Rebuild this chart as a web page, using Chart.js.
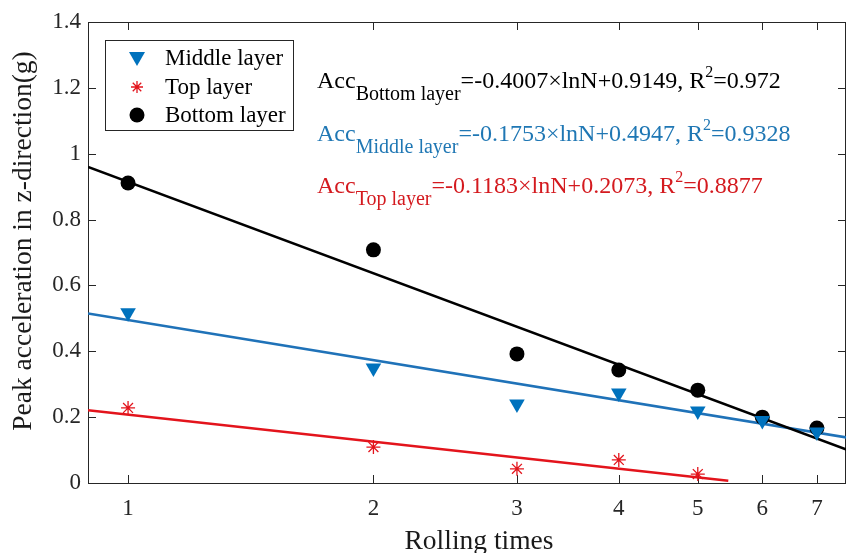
<!DOCTYPE html>
<html>
<head>
<meta charset="utf-8">
<script src="https://cdn.jsdelivr.net/npm/chart.js@4"></script>
<style>
  html, body { margin: 0; padding: 0; background: #fff; }
  #wrap { width: 847px; height: 553px; }
</style>
</head>
<body>
<div id="wrap"><canvas id="accChart" width="847" height="553"></canvas></div>
<script>
// values
const rollingTimes = [1, 2, 3, 4, 5, 6, 7];
const bottomLayer = [0.911, 0.708, 0.392, 0.343, 0.282, 0.200, 0.167];
const middleLayer = [0.517, 0.349, 0.240, 0.273, 0.219, 0.190, 0.155];
const topLayer = [0.228, 0.109, 0.043, 0.070, 0.027];

const xTicks = [1, 2, 3, 4, 5, 6, 7];
const yTicks = [0, 0.2, 0.4, 0.6, 0.8, 1, 1.2, 1.4];

// fitted lines (end points)
const fitX = [0.893, 7.72];
const bottomFit = [0.960, 0.096];
const middleFit = [0.515, 0.136];
const topFitX = [0.893, 5.45];
const topFit = [0.221, 0.007];

const equations = [
    { color: "#000000", parts: [["Acc", 0], ["Bottom layer", -1], ["=-0.4007×lnN+0.9149, R", 0], ["2", 1], ["=0.972", 0]] },
    { color: "#1F77B4", parts: [["Acc", 0], ["Middle layer", -1], ["=-0.1753×lnN+0.4947, R", 0], ["2", 1], ["=0.9328", 0]] },
    { color: "#D41A1F", parts: [["Acc", 0], ["Top layer", -1], ["=-0.1183×lnN+0.2073, R", 0], ["2", 1], ["=0.8877", 0]] }
];

const BLUE = "#0072BD";
const RED = "#E3141C";
const SERIF = "'Liberation Serif', 'DejaVu Serif', serif";

const pts = (xs, ys) => ys.map((y, i) => ({ x: xs[i], y: y }));

function drawMarker(ctx, kind, x, y) {
    ctx.save();
    if (kind === "tri") {
        ctx.fillStyle = BLUE;
        ctx.beginPath();
        ctx.moveTo(x - 8, y - 6);
        ctx.lineTo(x + 8, y - 6);
        ctx.lineTo(x, y + 8);
        ctx.closePath();
        ctx.fill();
    } else if (kind === "star") {
        ctx.strokeStyle = RED;
        ctx.lineWidth = 1.3;
        ctx.beginPath();
        for (let a = 0; a < 4; a++) {
            const ang = a * Math.PI / 4;
            ctx.moveTo(x - 6 * Math.cos(ang), y - 6 * Math.sin(ang));
            ctx.lineTo(x + 6 * Math.cos(ang), y + 6 * Math.sin(ang));
        }
        ctx.stroke();
    } else {
        ctx.fillStyle = "#000";
        ctx.beginPath();
        ctx.arc(x, y, 7.5, 0, Math.PI * 2);
        ctx.fill();
    }
    ctx.restore();
}

const framePlugin = {
    id: "frame",
    beforeDatasetsDraw(chart) {
        const { ctx, chartArea: a, scales } = chart;
        ctx.save();
        ctx.strokeStyle = "#262626";
        ctx.lineWidth = 1;
        ctx.strokeRect(a.left + 0.5, a.top + 0.5, a.right - a.left - 1, a.bottom - a.top);
        ctx.beginPath();
        xTicks.forEach(v => {
            const px = Math.round(scales.x.getPixelForValue(v)) + 0.5;
            ctx.moveTo(px, a.bottom); ctx.lineTo(px, a.bottom - 8);
            ctx.moveTo(px, a.top); ctx.lineTo(px, a.top + 8);
        });
        yTicks.forEach(v => {
            const py = Math.round(scales.y.getPixelForValue(v)) + 0.5;
            ctx.moveTo(a.left, py); ctx.lineTo(a.left + 8, py);
            ctx.moveTo(a.right, py); ctx.lineTo(a.right - 8, py);
        });
        ctx.stroke();
        ctx.restore();
    },
    afterDraw(chart) {
        const { ctx } = chart;
        ctx.save();
        // axis titles
        ctx.fillStyle = "#1a1a1a";
        ctx.font = "27.5px " + SERIF;
        ctx.textAlign = "center";
        ctx.textBaseline = "alphabetic";
        ctx.fillText("Rolling times", 479, 549);
        ctx.save();
        ctx.translate(31, 241);
        ctx.rotate(-Math.PI / 2);
        ctx.fillText("Peak acceleration in z-direction(g)", 0, 0);
        ctx.restore();

        // legend
        ctx.fillStyle = "#fff";
        ctx.fillRect(105, 40, 188, 90);
        ctx.strokeStyle = "#262626";
        ctx.lineWidth = 1;
        ctx.strokeRect(105.5, 40.5, 188, 90);
        const legend = [["tri", "Middle layer", 58], ["star", "Top layer", 87], ["dot", "Bottom layer", 115]];
        ctx.font = "23px " + SERIF;
        ctx.textAlign = "left";
        ctx.textBaseline = "middle";
        legend.forEach(([k, label, y]) => {
            drawMarker(ctx, k, 137, y);
            ctx.fillStyle = "#000";
            ctx.fillText(label, 165, y + 1);
        });

        // equations
        const baselines = [88, 141, 193];
        ctx.textBaseline = "alphabetic";
        equations.forEach((eq, i) => {
            let x = 317;
            ctx.fillStyle = eq.color;
            eq.parts.forEach(([t, lvl]) => {
                const size = lvl === 0 ? 24 : (lvl < 0 ? 20 : 16);
                const dy = lvl === 0 ? 0 : (lvl < 0 ? 12 : -11);
                ctx.font = size + "px " + SERIF;
                ctx.fillText(t, x, baselines[i] + dy);
                x += ctx.measureText(t).width;
            });
        });
        ctx.restore();
    }
};

new Chart(document.getElementById("accChart").getContext("2d"), {
    type: "scatter",
    data: {
        datasets: [
            {
                label: "Middle layer",
                data: pts(rollingTimes, middleLayer),
                pointStyle: "triangle",
                rotation: 180,
                radius: 9,
                backgroundColor: BLUE,
                borderColor: BLUE,
                borderWidth: 0
            },
            {
                label: "Top layer",
                data: pts(rollingTimes, topLayer),
                pointStyle: "star",
                radius: 7,
                borderColor: RED,
                backgroundColor: RED,
                borderWidth: 1.3
            },
            {
                label: "Bottom layer",
                data: pts(rollingTimes, bottomLayer),
                pointStyle: "circle",
                radius: 7.5,
                backgroundColor: "#000",
                borderColor: "#000",
                borderWidth: 0
            },
            {
                label: "Bottom fit",
                data: pts(fitX, bottomFit),
                showLine: true,
                radius: 0,
                borderColor: "#000",
                borderWidth: 2.6
            },
            {
                label: "Middle fit",
                data: pts(fitX, middleFit),
                showLine: true,
                radius: 0,
                borderColor: "#1F72B8",
                borderWidth: 2.6
            },
            {
                label: "Top fit",
                data: pts(topFitX, topFit),
                showLine: true,
                radius: 0,
                borderColor: RED,
                borderWidth: 2.6
            }
        ]
    },
    options: {
        responsive: false,
        animation: false,
        layout: { autoPadding: false, padding: { top: 22, right: 1, left: 0, bottom: 0 } },
        plugins: {
            legend: { display: false },
            tooltip: { enabled: false }
        },
        scales: {
            x: {
                type: "logarithmic",
                min: 0.893,
                max: 7.6,
                afterBuildTicks: scale => { scale.ticks = xTicks.map(v => ({ value: v })); },
                afterFit: scale => { scale.height = 70; },
                grid: { display: false, drawTicks: false },
                border: { display: false },
                ticks: {
                    autoSkip: false,
                    maxRotation: 0,
                    padding: 12,
                    color: "#262626",
                    font: { family: SERIF, size: 23 },
                    callback: v => String(v)
                }
            },
            y: {
                min: 0,
                max: 1.4,
                afterBuildTicks: scale => { scale.ticks = yTicks.map(v => ({ value: v })); },
                afterFit: scale => { scale.width = 88; },
                grid: { display: false, drawTicks: false },
                border: { display: false },
                ticks: {
                    padding: 7,
                    color: "#262626",
                    font: { family: SERIF, size: 23 },
                    callback: v => String(Math.round(v * 10) / 10)
                }
            }
        }
    },
    plugins: [framePlugin]
});
</script>
</body>
</html>
